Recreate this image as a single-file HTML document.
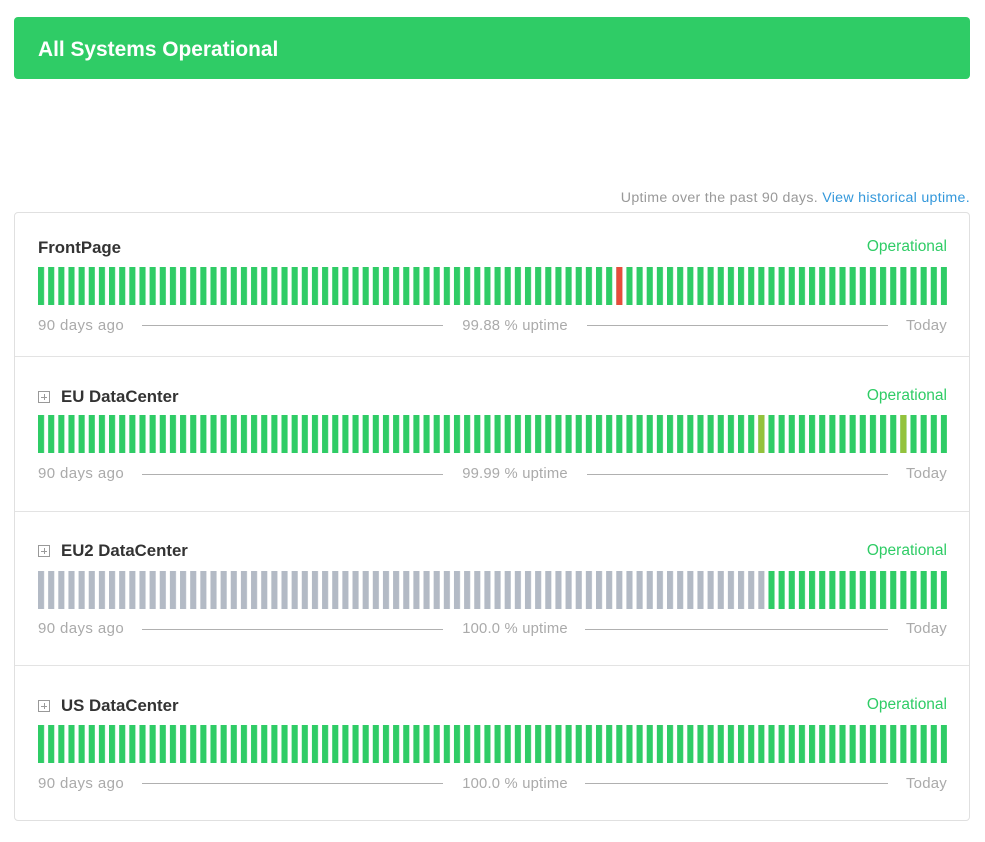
<!DOCTYPE html>
<html><head><meta charset="utf-8">
<style>
html,body{margin:0;padding:0;background:#fff;}
body{width:985px;height:842px;position:relative;overflow:hidden;font-family:"Liberation Sans",Arial,sans-serif;}
.banner{position:absolute;left:14px;top:17px;width:956px;height:62px;background:#2fcc66;border-radius:4px;}
.banner span{position:absolute;left:24px;top:0;line-height:66px;color:#fff;font-weight:bold;font-size:20.9px;}
.uptxt{position:absolute;right:15px;top:189px;font-size:14.2px;letter-spacing:0.3px;color:#999;line-height:18px;white-space:nowrap;}
.uptxt a{color:#3498db;text-decoration:none;}
.box{position:absolute;left:14px;top:212px;width:954px;height:607px;border:1px solid #e0e0e0;border-radius:4px;}
.sep{position:absolute;left:15px;width:954px;height:1px;background:#e3e3e3;}
.name{position:absolute;left:38px;font-size:16.8px;font-weight:bold;color:#333;line-height:20px;white-space:nowrap;}
.name.ex{left:61px;}
.plus{position:absolute;left:38px;width:10px;height:10px;border:1px solid #999;box-sizing:content-box;}
.plus:before{content:"";position:absolute;left:2px;top:4.5px;width:6px;height:1px;background:#999;}
.plus:after{content:"";position:absolute;left:4.5px;top:2px;width:1px;height:6px;background:#999;}
.op{position:absolute;right:38px;font-size:15.5px;color:#2fcc66;line-height:20px;}
svg.bars{position:absolute;left:38px;width:909px;height:38px;}
.meta{position:absolute;font-size:15px;letter-spacing:0.4px;color:#aaa;line-height:20px;white-space:nowrap;}
.l{left:38px;}
.r{right:38px;letter-spacing:0.2px;}
.c{left:415px;width:200px;text-align:center;font-size:14.8px;letter-spacing:0.2px;}
.ln{position:absolute;height:1px;background:#b0b0b0;}
</style></head><body>
<svg width="0" height="0" style="position:absolute">
 <defs>
  <pattern id="g" x="0" y="0" width="10.145" height="38" patternUnits="userSpaceOnUse"><rect x="0" y="0" width="6.1" height="38" fill="#2fcc66"/></pattern>
  <pattern id="s" x="0" y="0" width="10.145" height="38" patternUnits="userSpaceOnUse"><rect x="0" y="0" width="6.1" height="38" fill="#b3bac5"/></pattern>
 </defs>
</svg>
<div class="banner"><span>All Systems Operational</span></div>
<div class="uptxt">Uptime over the past 90 days. <a>View historical uptime.</a></div>
<div class="box"></div>

<!-- Row 1 -->
<div class="name" style="top:238px;">FrontPage</div>
<div class="op" style="top:237px;">Operational</div>
<svg class="bars" style="top:267px;" viewBox="0 0 909 38"><rect width="909" height="38" fill="url(#g)"/><rect x="578.3" width="6.1" height="38" fill="#fff"/><rect x="578.3" width="6.1" height="38" fill="#e74c3c"/></svg>
<div class="meta l" style="top:316px;">90 days ago</div>
<div class="ln" style="left:142px;width:301px;top:325px;"></div>
<div class="meta c" style="top:316px;">99.88 % uptime</div>
<div class="ln" style="left:587px;width:301px;top:325px;"></div>
<div class="meta r" style="top:316px;">Today</div>

<div class="sep" style="top:356px;"></div>

<!-- Row 2 -->
<div class="plus" style="top:391px;"></div>
<div class="name ex" style="top:387px;">EU DataCenter</div>
<div class="op" style="top:386px;">Operational</div>
<svg class="bars" style="top:415px;" viewBox="0 0 909 38"><rect width="909" height="38" fill="url(#g)"/><rect x="720.3" width="6.1" height="38" fill="#94c23c"/><rect x="862.3" width="6.1" height="38" fill="#94c23c"/></svg>
<div class="meta l" style="top:464px;">90 days ago</div>
<div class="ln" style="left:142px;width:301px;top:474px;"></div>
<div class="meta c" style="top:464px;">99.99 % uptime</div>
<div class="ln" style="left:587px;width:301px;top:474px;"></div>
<div class="meta r" style="top:464px;">Today</div>

<div class="sep" style="top:511px;"></div>

<!-- Row 3 -->
<div class="plus" style="top:545px;"></div>
<div class="name ex" style="top:541px;">EU2 DataCenter</div>
<div class="op" style="top:541px;">Operational</div>
<svg class="bars" style="top:571px;" viewBox="0 0 909 38"><rect width="730.44" height="38" fill="url(#s)"/><rect x="730.44" width="178.56" height="38" fill="url(#g)"/></svg>
<div class="meta l" style="top:619px;">90 days ago</div>
<div class="ln" style="left:142px;width:301px;top:629px;"></div>
<div class="meta c" style="top:619px;">100.0 % uptime</div>
<div class="ln" style="left:585px;width:303px;top:629px;"></div>
<div class="meta r" style="top:619px;">Today</div>

<div class="sep" style="top:665px;"></div>

<!-- Row 4 -->
<div class="plus" style="top:700px;"></div>
<div class="name ex" style="top:696px;">US DataCenter</div>
<div class="op" style="top:695px;">Operational</div>
<svg class="bars" style="top:725px;" viewBox="0 0 909 38"><rect width="909" height="38" fill="url(#g)"/></svg>
<div class="meta l" style="top:774px;">90 days ago</div>
<div class="ln" style="left:142px;width:301px;top:783px;"></div>
<div class="meta c" style="top:774px;">100.0 % uptime</div>
<div class="ln" style="left:585px;width:303px;top:783px;"></div>
<div class="meta r" style="top:774px;">Today</div>
</body></html>
